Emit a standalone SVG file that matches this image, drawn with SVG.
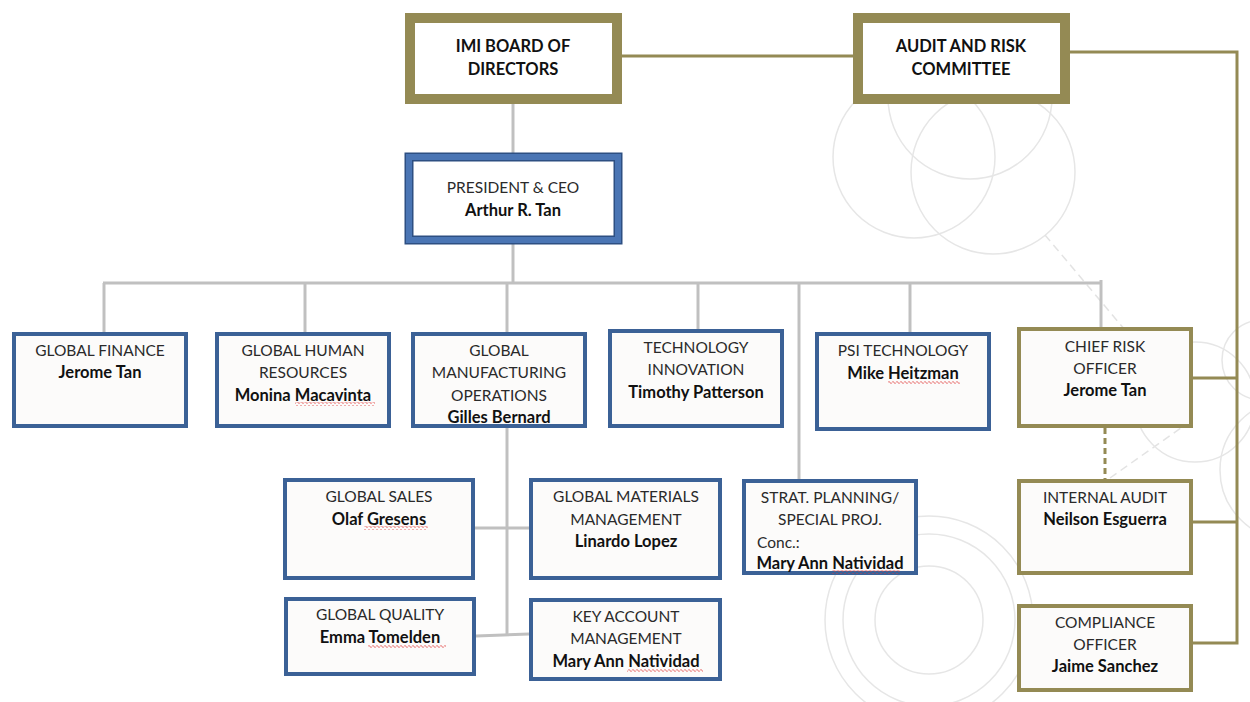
<svg xmlns="http://www.w3.org/2000/svg" width="1250" height="702" viewBox="0 0 1250 702">
<defs>
<pattern id="wave" patternUnits="userSpaceOnUse" x="0" y="0" width="4" height="4">
<path d="M0 2.5 Q1 0.5 2 2.5 T4 2.5" fill="none" stroke="#e03a3a" stroke-width="0.9"/>
</pattern>
</defs>
<style>
.bg{fill:none;stroke:#e6e6e6;stroke-width:1.5}
.bgd{fill:none;stroke:#e3e3e3;stroke-width:1.5;stroke-dasharray:8 5}
.gl{fill:none;stroke:#c0c0c0;stroke-width:3}
.ol{fill:none;stroke:#948a54;stroke-width:3}
.bb{fill:#fcfbfa;stroke:#3b6196;stroke-width:4}
.ob{fill:#fcfbfa;stroke:#948a54;stroke-width:4}
.tb{fill:#ffffff;stroke:#948a54;stroke-width:10}
.sp{fill:url(#wave);stroke:none}
text{font-family:Lato,"Open Sans","Liberation Sans",sans-serif;font-size:15.5px;fill:#1a1a1a;text-anchor:middle}
.r{font-weight:normal;fill:#2a2a2a}
.b{font-weight:bold;fill:#111;font-size:16.5px}
</style>
<g id="background">
<circle class="bg" cx="914" cy="157" r="81"/>
<circle class="bg" cx="970" cy="97" r="82"/>
<circle class="bg" cx="993" cy="172" r="82"/>
<line class="bgd" x1="1045" y1="235" x2="1125" y2="330"/>
<line class="bgd" x1="1110" y1="478" x2="1195" y2="418"/>
<circle class="bg" cx="1195" cy="402" r="60"/>
<circle class="bg" cx="1262" cy="360" r="40"/>
<circle class="bg" cx="1290" cy="470" r="70"/>
<circle class="bg" cx="929" cy="620" r="54"/>
<circle class="bg" cx="929" cy="620" r="86"/>
<circle class="bg" cx="929" cy="620" r="104"/>
</g>
<g id="connectors">
<line class="ol" x1="620" y1="56" x2="855" y2="56"/>
<polyline class="ol" points="1068,52 1237,52 1237,643 1193,643"/>
<line class="ol" x1="1193" y1="378" x2="1237" y2="378"/>
<line class="ol" x1="1193" y1="522" x2="1237" y2="522"/>
<line class="ol" x1="1105" y1="428" x2="1105" y2="479" stroke-dasharray="6 4"/>
<line class="gl" x1="513" y1="104" x2="513" y2="153"/>
<line class="gl" x1="513" y1="244" x2="513" y2="283"/>
<line class="gl" x1="103" y1="283" x2="1102" y2="283"/>
<line class="gl" x1="104" y1="283" x2="104" y2="332"/>
<line class="gl" x1="305" y1="283" x2="305" y2="332"/>
<line class="gl" x1="507" y1="283" x2="507" y2="332"/>
<line class="gl" x1="698" y1="283" x2="698" y2="329"/>
<line class="gl" x1="799" y1="283" x2="799" y2="479"/>
<line class="gl" x1="910" y1="283" x2="910" y2="332"/>
<line class="gl" x1="1101" y1="280" x2="1101" y2="327"/>
<line class="gl" x1="507" y1="428" x2="507" y2="636"/>
<line class="gl" x1="475" y1="528" x2="529" y2="528"/>
<line class="gl" x1="476" y1="636" x2="529" y2="634"/>
</g>
<g id="board">
<rect class="tb" x="410" y="18" width="207" height="81"/>
<text class="b" x="513" y="52">IMI BOARD OF</text>
<text class="b" x="513" y="75">DIRECTORS</text>
</g>
<g id="audit-committee">
<rect class="tb" x="858" y="18" width="207" height="81"/>
<text class="b" x="961" y="52">AUDIT  AND RISK</text>
<text class="b" x="961" y="75">COMMITTEE</text>
</g>
<g id="ceo">
<rect x="409" y="157" width="209" height="83" fill="#ffffff" stroke="#2d4f82" stroke-width="9"/>
<rect x="409" y="157" width="209" height="83" fill="none" stroke="#4a75b4" stroke-width="6"/>
<text class="r" x="513" y="193">PRESIDENT  &amp; CEO</text>
<text class="b" x="513" y="216">Arthur R. Tan</text>
</g>
<g id="global-finance">
<rect class="bb" x="14" y="334" width="172" height="92"/>
<text class="r" x="100" y="356">GLOBAL  FINANCE</text>
<text class="b" x="100" y="378">Jerome Tan</text>
</g>
<g id="global-hr">
<rect class="bb" x="217" y="334" width="172" height="92"/>
<text class="r" x="303" y="356">GLOBAL  HUMAN</text>
<text class="r" x="303" y="378">RESOURCES</text>
<text class="b" x="303" y="401">Monina  Macavinta</text>
<rect class="sp" x="295" y="402" width="80" height="4"/>
</g>
<g id="global-manufacturing">
<rect class="bb" x="413" y="334" width="172" height="92"/>
<text class="r" x="499" y="356">GLOBAL</text>
<text class="r" x="499" y="378">MANUFACTURING</text>
<text class="r" x="499" y="401">OPERATIONS</text>
<text class="b" x="499" y="423">Gilles Bernard</text>
</g>
<g id="technology-innovation">
<rect class="bb" x="610" y="331" width="172" height="95"/>
<text class="r" x="696" y="353">TECHNOLOGY</text>
<text class="r" x="696" y="375">INNOVATION</text>
<text class="b" x="696" y="398">Timothy Patterson</text>
</g>
<g id="psi-technology">
<rect class="bb" x="817" y="334" width="172" height="95"/>
<text class="r" x="903" y="356">PSI TECHNOLOGY</text>
<text class="b" x="903" y="379">Mike  Heitzman</text>
<rect class="sp" x="888" y="380" width="72" height="4"/>
</g>
<g id="chief-risk-officer">
<rect class="ob" x="1019" y="329" width="172" height="97"/>
<text class="r" x="1105" y="352">CHIEF RISK</text>
<text class="r" x="1105" y="374">OFFICER</text>
<text class="b" x="1105" y="396">Jerome Tan</text>
</g>
<g id="global-sales">
<rect class="bb" x="285" y="480" width="188" height="98"/>
<text class="r" x="379" y="502">GLOBAL  SALES</text>
<text class="b" x="379" y="525">Olaf Gresens</text>
<rect class="sp" x="364" y="526" width="64" height="4"/>
</g>
<g id="global-materials">
<rect class="bb" x="531" y="480" width="189" height="98"/>
<text class="r" x="626" y="502">GLOBAL  MATERIALS</text>
<text class="r" x="626" y="525">MANAGEMENT</text>
<text class="b" x="626" y="547">Linardo  Lopez</text>
</g>
<g id="strat-planning">
<rect class="bb" x="744" y="481" width="172" height="92"/>
<text class="r" x="830" y="503">STRAT.  PLANNING/</text>
<text class="r" x="830" y="525">SPECIAL PROJ.</text>
<text class="r" x="757" y="548" style="text-anchor:start">Conc.:</text>
<text class="b" x="830" y="569">Mary Ann Natividad</text>
<rect class="sp" x="832" y="570" width="68" height="4"/>
</g>
<g id="internal-audit">
<rect class="ob" x="1019" y="481" width="172" height="92"/>
<text class="r" x="1105" y="503">INTERNAL  AUDIT</text>
<text class="b" x="1105" y="525">Neilson Esguerra</text>
</g>
<g id="global-quality">
<rect class="bb" x="286" y="599" width="188" height="75"/>
<text class="r" x="380" y="620">GLOBAL  QUALITY</text>
<text class="b" x="380" y="643">Emma Tomelden</text>
<rect class="sp" x="368" y="644" width="78" height="4"/>
</g>
<g id="key-account">
<rect class="bb" x="531" y="600" width="189" height="79"/>
<text class="r" x="626" y="622">KEY ACCOUNT</text>
<text class="r" x="626" y="644">MANAGEMENT</text>
<text class="b" x="626" y="667">Mary Ann Natividad</text>
<rect class="sp" x="627" y="668" width="76" height="4"/>
</g>
<g id="compliance-officer">
<rect class="ob" x="1019" y="606" width="172" height="84"/>
<text class="r" x="1105" y="628">COMPLIANCE</text>
<text class="r" x="1105" y="650">OFFICER</text>
<text class="b" x="1105" y="672">Jaime Sanchez</text>
</g>
</svg>
